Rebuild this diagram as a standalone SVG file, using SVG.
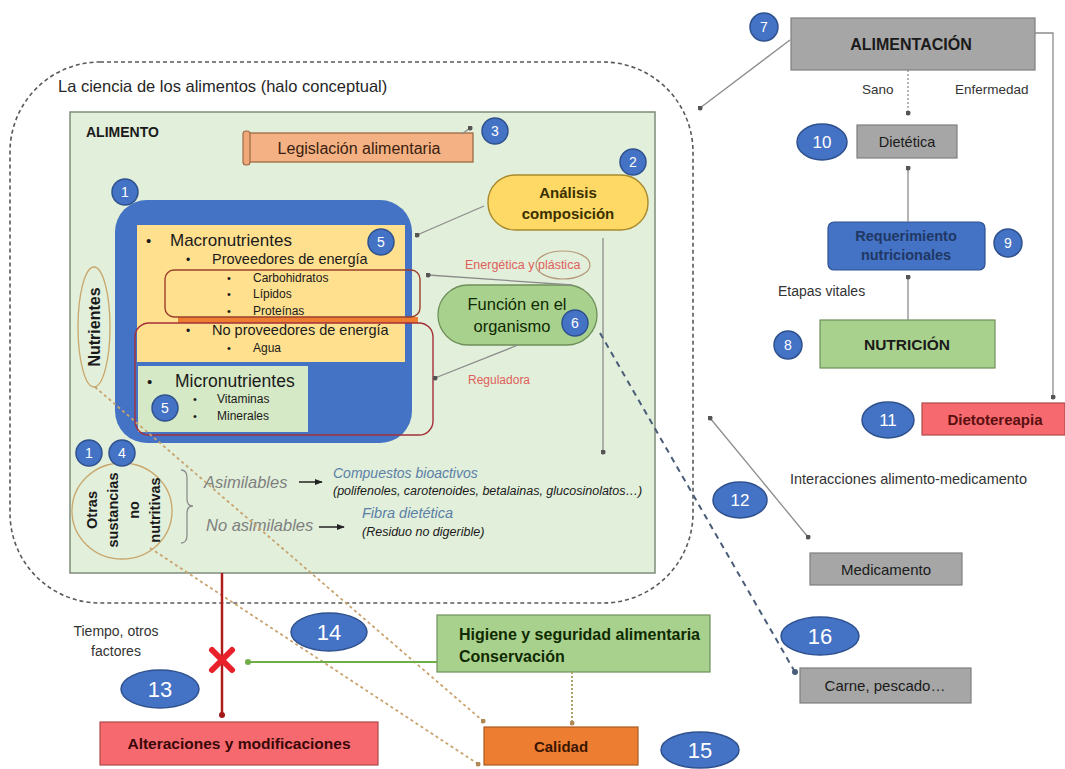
<svg xmlns="http://www.w3.org/2000/svg" width="1065" height="769" viewBox="0 0 1065 769" fill="#1a1a1a">
<defs>
<style>
text{font-family:"Liberation Sans",Arial,sans-serif}
.b{font-weight:bold}
.c{text-anchor:middle}
.i{font-style:italic}
.badge{fill:#4472c4;stroke:#2f528f;stroke-width:1.5}
.bn{fill:#fff;text-anchor:middle}
.gray{fill:#a6a6a6;stroke:#7f7f7f;stroke-width:1.2}
.green{fill:#a9d18e;stroke:#6f8f5a;stroke-width:1.2}
.red{fill:#f6696e;stroke:#b04a4a;stroke-width:1.2}
.ln{fill:none;stroke:#8c8c8c;stroke-width:1.3}
.tan{fill:none;stroke:#c8a36e;stroke-width:1.8;stroke-dasharray:3 3}
.ell{fill:none;stroke:#c9a66b;stroke-width:1.3}
</style>
<marker id="dot" viewBox="0 0 6 6" refX="3" refY="3" markerWidth="5" markerHeight="5" markerUnits="userSpaceOnUse"><circle cx="3" cy="3" r="3" fill="#555"/></marker>
<marker id="dotR" viewBox="0 0 6 6" refX="3" refY="3" markerWidth="6" markerHeight="6" markerUnits="userSpaceOnUse"><circle cx="3" cy="3" r="3" fill="#a01818"/></marker>
<marker id="dotG" viewBox="0 0 6 6" refX="3" refY="3" markerWidth="6" markerHeight="6" markerUnits="userSpaceOnUse"><circle cx="3" cy="3" r="3" fill="#70ad47"/></marker>
<marker id="dotT" viewBox="0 0 6 6" refX="3" refY="3" markerWidth="5" markerHeight="5" markerUnits="userSpaceOnUse"><circle cx="3" cy="3" r="3" fill="#b08a55"/></marker>
<marker id="dotB" viewBox="0 0 6 6" refX="3" refY="3" markerWidth="6" markerHeight="6" markerUnits="userSpaceOnUse"><circle cx="3" cy="3" r="3" fill="#4a5d78"/></marker>
<marker id="arr" viewBox="0 0 10 10" refX="9" refY="5" markerWidth="8" markerHeight="8" markerUnits="userSpaceOnUse" orient="auto"><path d="M0,1 L10,5 L0,9 z" fill="#222"/></marker>
</defs>
<rect width="1065" height="769" fill="#fff"/>

<g id="halo">
<rect x="10" y="62" width="683" height="541" rx="90" ry="90" fill="none" stroke="#595959" stroke-width="1.6" stroke-dasharray="4 3"/>
<text x="58" y="92" font-size="16.5" fill="#262626">La ciencia de los alimentos (halo conceptual)</text>
</g>

<g id="alimento">
<rect x="70" y="112" width="585" height="461" fill="#e2efda" stroke="#7f8c7a" stroke-width="1.5"/>
<text x="86" y="137" font-size="14" class="b">ALIMENTO</text>
</g>

<g id="legislacion">
<rect x="247" y="133" width="226" height="29" fill="#f4b183" stroke="#9c6a45" stroke-width="1.3"/>
<rect x="243" y="131" width="7" height="34" rx="3" fill="#f0a878" stroke="#9c6a45" stroke-width="1.2"/>
<text x="359" y="154" font-size="16" class="c" fill="#3a1f10">Legislación alimentaria</text>
</g>

<g id="nutrientes-bloque">
<rect x="115" y="200" width="297" height="243" rx="32" fill="#4472c4"/>
<rect x="137" y="225" width="268" height="137" fill="#ffe08f"/>
<rect x="138" y="366" width="170" height="66" fill="#d6e9c6"/>
<text x="146" y="246" font-size="15">•</text>
<text x="170" y="246" font-size="17">Macronutrientes</text>
<text x="186" y="264" font-size="12">•</text>
<text x="212" y="264" font-size="14.5">Proveedores de energía</text>
<text x="227" y="282" font-size="11">•</text>
<text x="253" y="282" font-size="12">Carbohidratos</text>
<text x="227" y="298" font-size="11">•</text>
<text x="253" y="298" font-size="12">Lípidos</text>
<text x="227" y="315" font-size="11">•</text>
<text x="253" y="315" font-size="12">Proteínas</text>
<text x="186" y="335" font-size="12">•</text>
<text x="212" y="335" font-size="14.5">No proveedores de energía</text>
<text x="227" y="352" font-size="11">•</text>
<text x="253" y="352" font-size="12">Agua</text>
<text x="147" y="387" font-size="15">•</text>
<text x="175" y="387" font-size="17.5">Micronutrientes</text>
<text x="193" y="403" font-size="11">•</text>
<text x="217" y="403" font-size="12">Vitaminas</text>
<text x="193" y="420" font-size="11">•</text>
<text x="217" y="420" font-size="12">Minerales</text>
<rect x="178" y="317" width="240" height="6" fill="#ed7d31"/>
<rect x="165" y="270" width="255" height="47" rx="9" fill="none" stroke="#9c3f2b" stroke-width="1.4"/>
<rect x="135" y="323" width="298" height="112" rx="14" fill="none" stroke="#a5303a" stroke-width="1.4"/>
</g>

<g id="nutrientes-label">
<ellipse cx="94" cy="327" rx="16" ry="60" class="ell"/>
<text transform="translate(100,327) rotate(-90)" font-size="16" class="b c">Nutrientes</text>
</g>

<g id="analisis">
<rect x="488" y="175" width="160" height="55" rx="27" fill="#ffd966" stroke="#a88a2c" stroke-width="1.4"/>
<text x="568" y="198" font-size="15" class="b c" fill="#3a3000">Análisis</text>
<text x="568" y="219" font-size="15" class="b c" fill="#3a3000">composición</text>
</g>

<g id="energetica">
<text x="465" y="269" font-size="12.5" fill="#e0605c">Energética y plástica</text>
<ellipse cx="563" cy="265" rx="27" ry="14" fill="none" stroke="#b59a7a" stroke-width="1.2"/>
</g>

<g id="funcion">
<rect x="438" y="285" width="159" height="60" rx="30" fill="#a9d18e" stroke="#6f8f5a" stroke-width="1.3"/>
<text x="517" y="310" font-size="16.5" class="c" fill="#102a00">Función en el</text>
<text x="512" y="332" font-size="16.5" class="c" fill="#102a00">organismo</text>
</g>

<g id="reguladora">
<text x="468" y="384" font-size="12" fill="#e0605c">Reguladora</text>
</g>

<g id="otras">
<ellipse cx="122" cy="511" rx="50" ry="48" class="ell"/>
<text transform="translate(97,510) rotate(-90)" font-size="14.5" class="b c">Otras</text>
<text transform="translate(118,510) rotate(-90)" font-size="14.5" class="b c">sustancias</text>
<text transform="translate(139,510) rotate(-90)" font-size="14.5" class="b c">no</text>
<text transform="translate(160,510) rotate(-90)" font-size="14.5" class="b c">nutritivas</text>
<path d="M181,470 Q187,470 187,478 L187,499 Q187,506 193,506 Q187,506 187,513 L187,535 Q187,543 181,543" fill="none" stroke="#8c8c8c" stroke-width="1.3"/>
</g>

<g id="asimilables">
<text x="204" y="488" font-size="16.5" class="i" fill="#7f7f7f">Asimilables</text>
<text x="333" y="478" font-size="14" class="i" fill="#5b80a8">Compuestos bioactivos</text>
<text x="333" y="495" font-size="12.5" class="i">(polifenoles, carotenoides, betalainas, glucosinolatos…)</text>
</g>

<g id="no-asimilables">
<text x="206" y="531" font-size="16.5" class="i" fill="#7f7f7f">No asimilables</text>
<text x="362" y="518" font-size="14.5" class="i" fill="#5b80a8">Fibra dietética</text>
<text x="362" y="536" font-size="12.5" class="i">(Residuo no digerible)</text>
</g>

<g id="alimentacion">
<rect x="791" y="18" width="244" height="52" class="gray"/>
<text x="911" y="50" font-size="16" class="b c">ALIMENTACIÓN</text>
<text x="862" y="94" font-size="13.5" fill="#333">Sano</text>
<text x="955" y="94" font-size="13.5" fill="#333">Enfermedad</text>
</g>

<g id="dietetica">
<rect x="857" y="125" width="100" height="33" class="gray"/>
<text x="907" y="147" font-size="14.5" class="c">Dietética</text>
</g>

<g id="requerimiento">
<rect x="828" y="222" width="157" height="48" rx="6" fill="#4472c4" stroke="#2f528f" stroke-width="1.2"/>
<text x="906" y="241" font-size="14.5" class="b c" fill="#1f3864">Requerimiento</text>
<text x="906" y="260" font-size="14.5" class="b c" fill="#1f3864">nutricionales</text>
</g>

<g id="nutricion">
<text x="778" y="296" font-size="14" fill="#333">Etapas vitales</text>
<rect x="820" y="320" width="175" height="48" class="green"/>
<text x="907" y="350" font-size="15.5" class="b c">NUTRICIÓN</text>
</g>

<g id="dietoterapia">
<rect x="922" y="403" width="143" height="32" class="red"/>
<text x="995" y="425" font-size="15" class="b c" fill="#5a1010">Dietotereapia</text>
</g>

<g id="medicamento">
<text x="790" y="484" font-size="14.5" fill="#333">Interacciones alimento-medicamento</text>
<rect x="810" y="553" width="152" height="32" class="gray"/>
<text x="886" y="575" font-size="15" class="c">Medicamento</text>
</g>

<g id="carne">
<rect x="800" y="668" width="171" height="35" class="gray"/>
<text x="885" y="691" font-size="15" class="c">Carne, pescado…</text>
</g>

<g id="higiene">
<rect x="437" y="615" width="273" height="57" class="green"/>
<text x="459" y="640" font-size="16" class="b" fill="#102a00">Higiene y seguridad alimentaria</text>
<text x="459" y="662" font-size="16" class="b" fill="#102a00">Conservación</text>
</g>

<g id="calidad">
<rect x="484" y="727" width="154" height="38" fill="#ed7d31" stroke="#a95a22" stroke-width="1.2"/>
<text x="561" y="752" font-size="15" class="b c" fill="#3a1500">Calidad</text>
</g>

<g id="alteraciones">
<text x="116" y="636" font-size="14" class="c" fill="#333">Tiempo, otros</text>
<text x="116" y="656" font-size="14" class="c" fill="#333">factores</text>
<rect x="100" y="722" width="278" height="43" class="red"/>
<text x="239" y="749" font-size="15.5" class="b c" fill="#3a0808">Alteraciones y modificaciones</text>
</g>

<g id="connectors">
<path d="M790,40 L700,108" class="ln" marker-end="url(#dot)"/>
<path d="M908,70 L908,113" class="ln" stroke-dasharray="2 2" marker-end="url(#dot)"/>
<path d="M1035,33 L1053,33 L1053,397" class="ln" marker-end="url(#dot)"/>
<path d="M908,222 L908,168" class="ln" marker-end="url(#dot)"/>
<path d="M908,320 L908,277" class="ln" marker-end="url(#dot)"/>
<path d="M808,537 L710,418" class="ln" marker-start="url(#dot)" marker-end="url(#dot)"/>
<path d="M484,206 L417,235" class="ln" marker-end="url(#dot)"/>
<path d="M572,285 L428,275" class="ln" marker-end="url(#dot)"/>
<path d="M518,345 L435,378" class="ln" marker-end="url(#dot)"/>
<path d="M603,238 L603,452" class="ln" marker-end="url(#dot)"/>
<path d="M462,134 L470,128" class="ln" marker-end="url(#dot)"/>
<path d="M299,482 L322,482" stroke="#222" stroke-width="1.5" marker-end="url(#arr)"/>
<path d="M319,527 L344,527" stroke="#222" stroke-width="1.5" marker-end="url(#arr)"/>
<path d="M600,333 L795,672" fill="none" stroke="#4a5d78" stroke-width="2" stroke-dasharray="6 5" marker-end="url(#dotB)"/>
<path d="M95,387 L483,721" class="tan" marker-end="url(#dotT)"/>
<path d="M150,548 L478,764" class="tan" marker-end="url(#dotT)"/>
<path d="M222,573 L222,715" fill="none" stroke="#b01c1c" stroke-width="2.5" marker-end="url(#dotR)"/>
<path d="M437,662 L248,662" fill="none" stroke="#70ad47" stroke-width="2" marker-end="url(#dotG)"/>
<path d="M572,672 L572,723" fill="none" stroke="#a9a36a" stroke-width="2" stroke-dasharray="2 2" marker-end="url(#dotT)"/>
<path d="M212,650 L232,670 M232,650 L212,670" fill="none" stroke="#e8202a" stroke-width="6" stroke-linecap="round"/>
</g>

<g id="badges">
<g id="b1a"><circle cx="125" cy="192" r="13" class="badge"/><text x="125" y="197" font-size="14" class="bn">1</text></g>
<g id="b2"><circle cx="633" cy="162" r="13" class="badge"/><text x="633" y="167" font-size="14" class="bn">2</text></g>
<g id="b3"><circle cx="495" cy="131" r="13" class="badge"/><text x="495" y="136" font-size="14" class="bn">3</text></g>
<g id="b1b"><circle cx="89" cy="453" r="13" class="badge"/><text x="89" y="458" font-size="14" class="bn">1</text></g>
<g id="b4"><circle cx="122" cy="453" r="13" class="badge"/><text x="122" y="458" font-size="14" class="bn">4</text></g>
<g id="b5a"><circle cx="381" cy="242" r="13" class="badge"/><text x="381" y="247" font-size="14" class="bn">5</text></g>
<g id="b5b"><circle cx="165" cy="408" r="13" class="badge"/><text x="165" y="413" font-size="14" class="bn">5</text></g>
<g id="b6"><circle cx="575" cy="323" r="13" class="badge"/><text x="575" y="328" font-size="14" class="bn">6</text></g>
<g id="b7"><circle cx="764" cy="27" r="14" class="badge"/><text x="764" y="32" font-size="14" class="bn">7</text></g>
<g id="b8"><circle cx="788" cy="345" r="14" class="badge"/><text x="788" y="350" font-size="14" class="bn">8</text></g>
<g id="b9"><circle cx="1008" cy="243" r="14" class="badge"/><text x="1008" y="248" font-size="14" class="bn">9</text></g>
<g id="b10"><ellipse cx="822" cy="142" rx="25" ry="18" class="badge"/><text x="822" y="148" font-size="17" class="bn">10</text></g>
<g id="b11"><ellipse cx="888" cy="420" rx="26" ry="18" class="badge"/><text x="888" y="426" font-size="17" class="bn">11</text></g>
<g id="b12"><ellipse cx="740" cy="500" rx="27" ry="18" class="badge"/><text x="740" y="506" font-size="17" class="bn">12</text></g>
<g id="b13"><ellipse cx="160" cy="689" rx="39" ry="19" class="badge"/><text x="160" y="697" font-size="22" class="bn">13</text></g>
<g id="b14"><ellipse cx="329" cy="632" rx="38" ry="19" class="badge"/><text x="329" y="640" font-size="22" class="bn">14</text></g>
<g id="b15"><ellipse cx="700" cy="750" rx="39" ry="18" class="badge"/><text x="700" y="758" font-size="22" class="bn">15</text></g>
<g id="b16"><ellipse cx="820" cy="636" rx="39" ry="19" class="badge"/><text x="820" y="644" font-size="22" class="bn">16</text></g>
</g>
</svg>
